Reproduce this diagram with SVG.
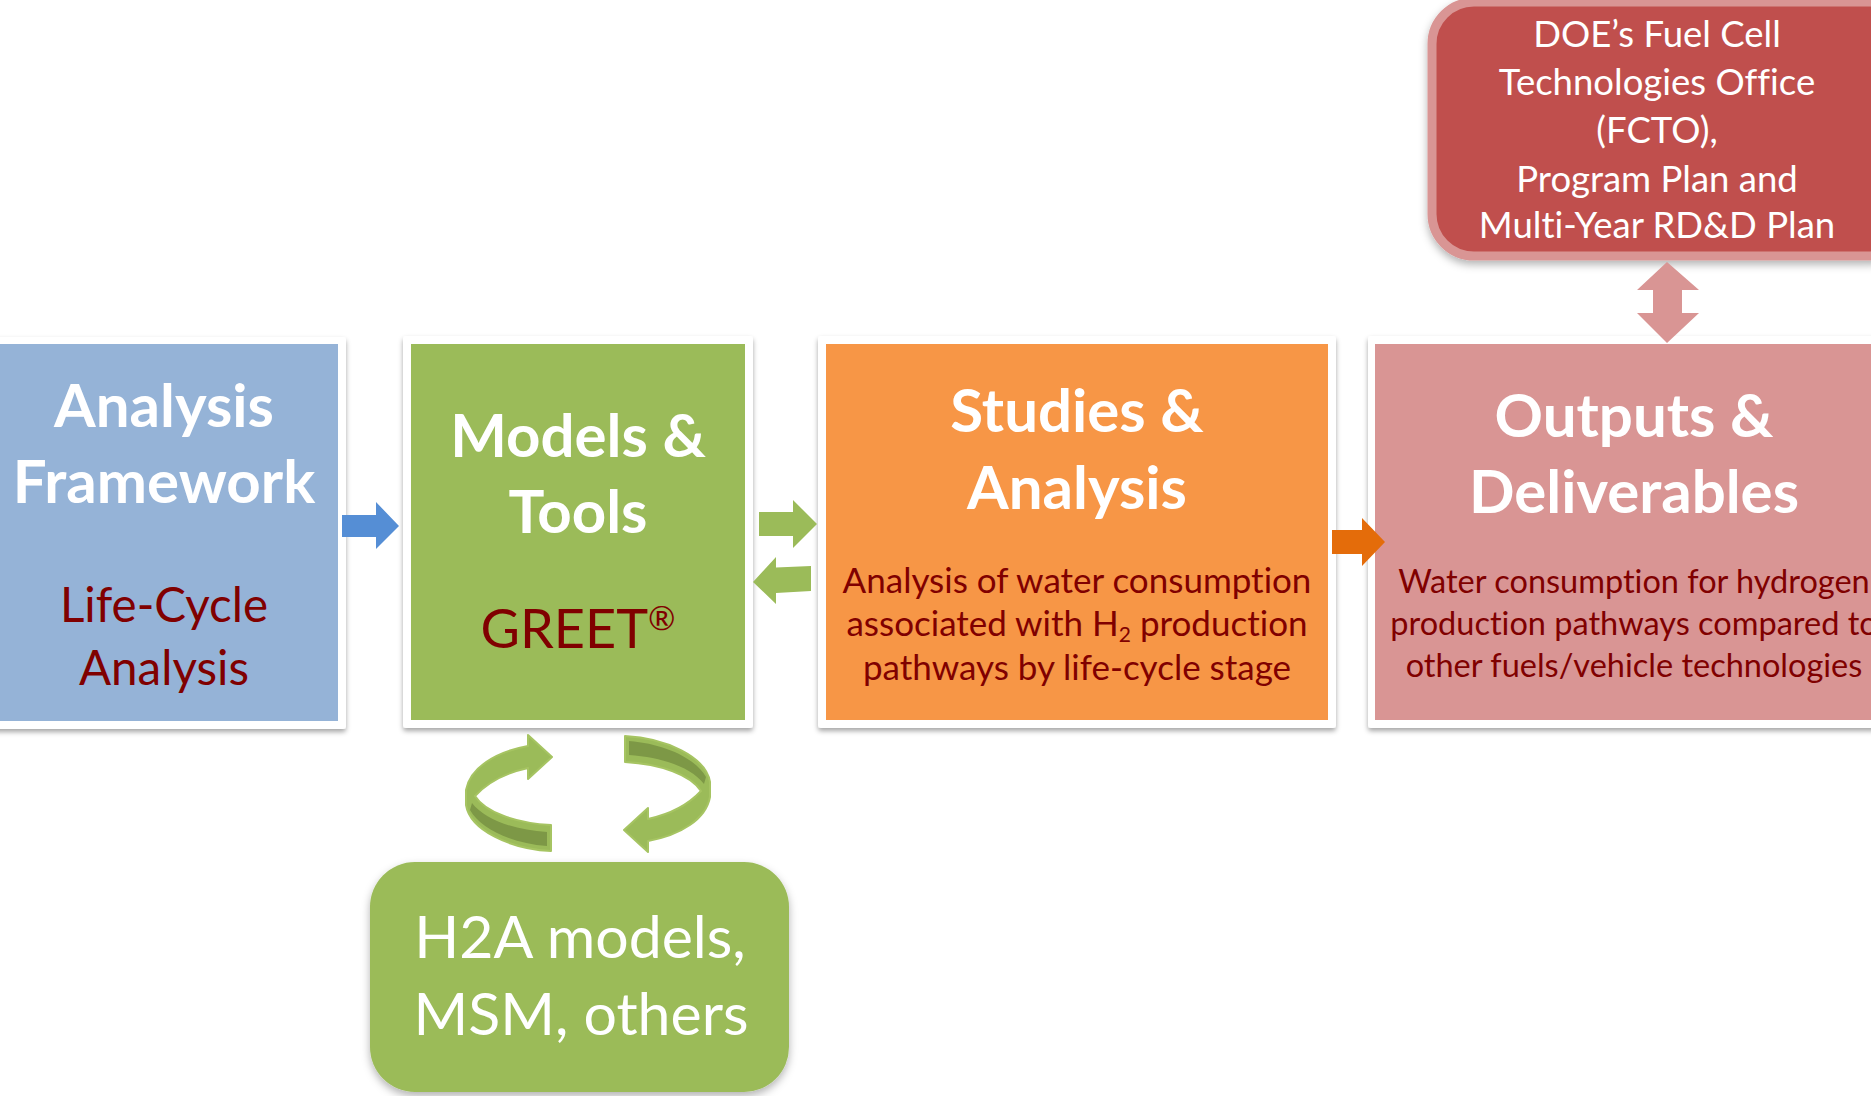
<svg xmlns="http://www.w3.org/2000/svg" xmlns:xlink="http://www.w3.org/1999/xlink" width="1871" height="1096" viewBox="0 0 1871 1096">
<style>
  text { font-variant-ligatures: none; }
  .title { font-family: Lato, "Open Sans", sans-serif; font-weight: bold; fill: #ffffff; text-anchor: middle; }
  .sub { font-family: Lato, "Open Sans", sans-serif; fill: #800000; text-anchor: middle; }
  .white { font-family: Lato, "Open Sans", sans-serif; fill: #ffffff; text-anchor: middle; }
  .frame { fill: #ffffff; filter: url(#shadow); }
</style>
<defs>
  <filter id="shadow" x="-10%" y="-10%" width="120%" height="125%">
    <feDropShadow dx="0" dy="3" stdDeviation="2.5" flood-color="#000000" flood-opacity="0.35"/>
  </filter>
  <filter id="softshadow" x="-10%" y="-10%" width="120%" height="130%">
    <feDropShadow dx="0" dy="4" stdDeviation="4" flood-color="#000000" flood-opacity="0.3"/>
  </filter>
  <g id="cycle">
    <path d="M 551 825 C 515 823, 485 812, 475 796 C 488 782, 505 773, 528 768 L 528 779 L 552 757 L 528 735 L 528 746 C 495 752, 470 768, 466 790 L 466 805 C 470 830, 510 849, 551 851 Z" fill="#9bbb59" stroke="#a6c462" stroke-width="2" stroke-linejoin="round"/>
    <path d="M 472 803 C 485 820, 515 830, 547 832 L 547 846 C 510 843, 480 828, 470 810 Z" fill="#7d9846"/>
  </g>
</defs>

<g id="node-framework">
  <rect class="frame" x="-10" y="337" width="356" height="392" rx="3"/>
  <rect x="-2" y="344" width="340" height="377" fill="#95b3d7"/>
  <text class="title" x="164" y="427" font-size="60">Analysis</text>
  <text class="title" x="164" y="503" font-size="60">Framework</text>
  <text class="sub" x="164" y="622" font-size="47.5">Life-Cycle</text>
  <text class="sub" x="164" y="685" font-size="47.5">Analysis</text>
</g>

<g id="node-models">
  <rect class="frame" x="403" y="336" width="350" height="392" rx="3"/>
  <rect x="411" y="344" width="334" height="376" fill="#9bbb59"/>
  <text class="title" x="578" y="457" font-size="60">Models &amp;</text>
  <text class="title" x="578" y="533" font-size="60">Tools</text>
  <text class="sub" x="578" y="648" font-size="54">GREET<tspan font-size="33" dy="-18">®</tspan></text>
</g>

<g id="node-studies">
  <rect class="frame" x="818" y="336" width="518" height="392" rx="3"/>
  <rect x="826" y="344" width="502" height="376" fill="#f79646"/>
  <text class="title" x="1077" y="432" font-size="60">Studies &amp;</text>
  <text class="title" x="1077" y="509" font-size="60">Analysis</text>
  <text class="sub" x="1077" y="593" font-size="35">Analysis of water consumption</text>
  <text class="sub" x="1077" y="636" font-size="35">associated with H<tspan font-size="21" dy="6">2</tspan><tspan dy="-6"> production</tspan></text>
  <text class="sub" x="1077" y="680" font-size="35">pathways by life-cycle stage</text>
</g>

<g id="node-outputs">
  <rect class="frame" x="1368" y="336" width="530" height="392" rx="3"/>
  <rect x="1375" y="344" width="520" height="376" fill="#d99594"/>
  <text class="title" x="1634" y="437" font-size="60">Outputs &amp;</text>
  <text class="title" x="1634" y="513" font-size="60">Deliverables</text>
  <text class="sub" x="1634" y="593" font-size="32.5">Water consumption for hydrogen</text>
  <text class="sub" x="1634" y="635" font-size="32.5">production pathways compared to</text>
  <text class="sub" x="1634" y="677" font-size="32.5">other fuels/vehicle technologies</text>
</g>

<g id="node-doe">
  <rect x="1432" y="2" width="480" height="254" rx="42" fill="#c0504d" stroke="#d99594" stroke-width="9" filter="url(#softshadow)"/>
  <text class="white" x="1657" y="47" font-size="36.5">DOE’s Fuel Cell</text>
  <text class="white" x="1657" y="95" font-size="36.5">Technologies Office</text>
  <text class="white" x="1657" y="143" font-size="36.5">(FCTO),</text>
  <text class="white" x="1657" y="192" font-size="36.5">Program Plan and</text>
  <text class="white" x="1657" y="238" font-size="36.5">Multi-Year RD&amp;D Plan</text>
</g>

<g id="node-h2a">
  <rect x="370" y="862" width="419" height="230" rx="45" fill="#9bbb59" filter="url(#softshadow)"/>
  <text class="white" x="580" y="958" font-size="59">H2A models,</text>
  <text class="white" x="581" y="1035" font-size="59">MSM, others</text>
</g>

<g id="connectors">
  <polygon id="arrow-framework-models" points="342,515 376,515 376,502 399,526 376,549 376,537 342,537" fill="#558ed5"/>
  <polygon id="arrow-models-studies" points="759,512 793,512 793,500 817,524 793,548 793,536 759,536" fill="#9bbb59"/>
  <polygon id="arrow-studies-models" points="811,566 776,567.5 776,557 753,582 776,604 776,593 811,591" fill="#9bbb59"/>
  <polygon id="arrow-studies-outputs" points="1332,530 1362,530 1362,518 1385,542 1362,566 1362,554 1332,554" fill="#e46c0a"/>
  <polygon id="arrow-doe-outputs" points="1667,262 1699,290 1682,290 1682,313 1699,313 1667,343 1637,313 1653,313 1653,290 1637,290" fill="#d99594"/>
  <use id="cycle-left" xlink:href="#cycle"/>
  <use id="cycle-right" xlink:href="#cycle" transform="rotate(180 588 793.5)"/>
</g>
</svg>
